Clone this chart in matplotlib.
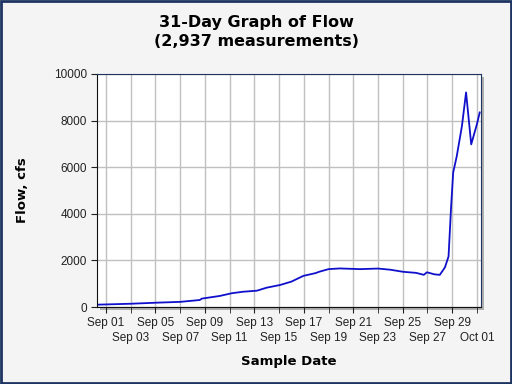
import pandas as pd
import matplotlib
matplotlib.use("Agg")
import matplotlib.pyplot as plt
from matplotlib.patches import Rectangle

# Valores (vazão em cfs)
times = ["2023-08-31 07:00", "2023-09-03 00:00", "2023-09-05 02:00", "2023-09-07 00:00",
         "2023-09-08 14:00", "2023-09-08 18:00", "2023-09-10 05:00", "2023-09-11 04:00",
         "2023-09-12 02:00", "2023-09-13 05:00", "2023-09-14 00:00", "2023-09-15 02:00",
         "2023-09-16 00:00", "2023-09-16 23:00", "2023-09-17 22:00", "2023-09-18 07:00",
         "2023-09-19 00:00", "2023-09-19 22:00", "2023-09-21 13:00", "2023-09-23 00:00",
         "2023-09-24 00:00", "2023-09-25 01:00", "2023-09-26 02:00", "2023-09-26 17:00",
         "2023-09-26 23:00", "2023-09-27 14:00", "2023-09-28 00:00", "2023-09-28 10:00",
         "2023-09-28 17:00", "2023-09-28 22:00", "2023-09-29 02:00", "2023-09-29 09:00",
         "2023-09-29 19:00", "2023-09-30 03:00", "2023-09-30 13:00", "2023-10-01 00:00",
         "2023-10-01 05:30"]
flow = [100, 140, 185, 220,
        300, 360, 475, 590,
        655, 700, 830, 945,
        1090, 1335, 1450, 1520,
        1625, 1655, 1625, 1650,
        1600, 1510, 1465, 1380,
        1490, 1400, 1380, 1700,
        2170, 4320, 5770, 6480,
        7770, 9210, 6980, 7840,
        8350]

top_row_dates = pd.date_range("2023-09-01", "2023-09-29", freq="4D")
bottom_row_dates = pd.date_range("2023-09-03", "2023-10-01", freq="4D")
y_ticks = [0, 2000, 4000, 6000, 8000, 10000]

t = pd.to_datetime(times)

fig = plt.figure(figsize=(5.12, 3.84), dpi=100)
fig.patch.set_facecolor("#f4f4f4")
fig.patches.append(Rectangle((0.002, 0.003), 0.996, 0.994, transform=fig.transFigure,
                             fill=False, edgecolor="#1d3461", linewidth=2))

ax_pos = [97 / 512, 1 - 307 / 384, (481 - 97) / 512, (307 - 74) / 384]
# sombra do painel
shadow = Rectangle((ax_pos[0] + 3 / 512, ax_pos[1] - 3 / 384), ax_pos[2], ax_pos[3],
                   transform=fig.transFigure, facecolor="#b0b0b0", edgecolor="none", zorder=-5)
fig.patches.append(shadow)
ax = fig.add_axes(ax_pos, zorder=1)
ax.set_facecolor("white")

ax.plot(t, flow, color="#1010cc", linewidth=1.3)

ax.set_xlim(pd.Timestamp("2023-08-31 06:30"), pd.Timestamp("2023-10-01 08:00"))
ax.set_ylim(0, 10000)
ax.set_yticks(y_ticks)
ax.set_yticklabels([str(v) for v in y_ticks], fontsize=8.5, family="Liberation Sans")

ax.set_xticks(top_row_dates)
ax.set_xticklabels([d.strftime("%b %d") for d in top_row_dates], fontsize=8.5,
                   family="Liberation Sans")
ax.set_xticks(bottom_row_dates, minor=True)
ax.set_xticklabels([d.strftime("%b %d") for d in bottom_row_dates], minor=True,
                   fontsize=8.5, family="Liberation Sans")

ax.grid(True, which="both", color="#c0c0c0", linewidth=1)
ax.set_axisbelow(True)
ax.tick_params(which="both", length=4, color="#202020", labelcolor="#222222", pad=3)
ax.tick_params(axis="x", which="minor", pad=14)
for s in ax.spines.values():
    s.set_color("#1d3461")
ax.spines["left"].set_color("#101010")
ax.spines["bottom"].set_color("#101010")

fig.text(0.5, 1 - 32 / 384, "31-Day Graph of Flow\n(2,937 measurements)", ha="center", va="center",
         fontsize=11.5, fontweight="bold", linespacing=1.3)
fig.text(289 / 512, 1 - 362 / 384, "Sample Date", ha="center", va="center",
         fontsize=9.5, fontweight="bold")
fig.text(23 / 512, 1 - 190 / 384, "Flow, cfs", ha="center", va="center", rotation=90,
         fontsize=9.5, fontweight="bold")

fig.savefig("out.png", dpi=100, facecolor=fig.get_facecolor())
